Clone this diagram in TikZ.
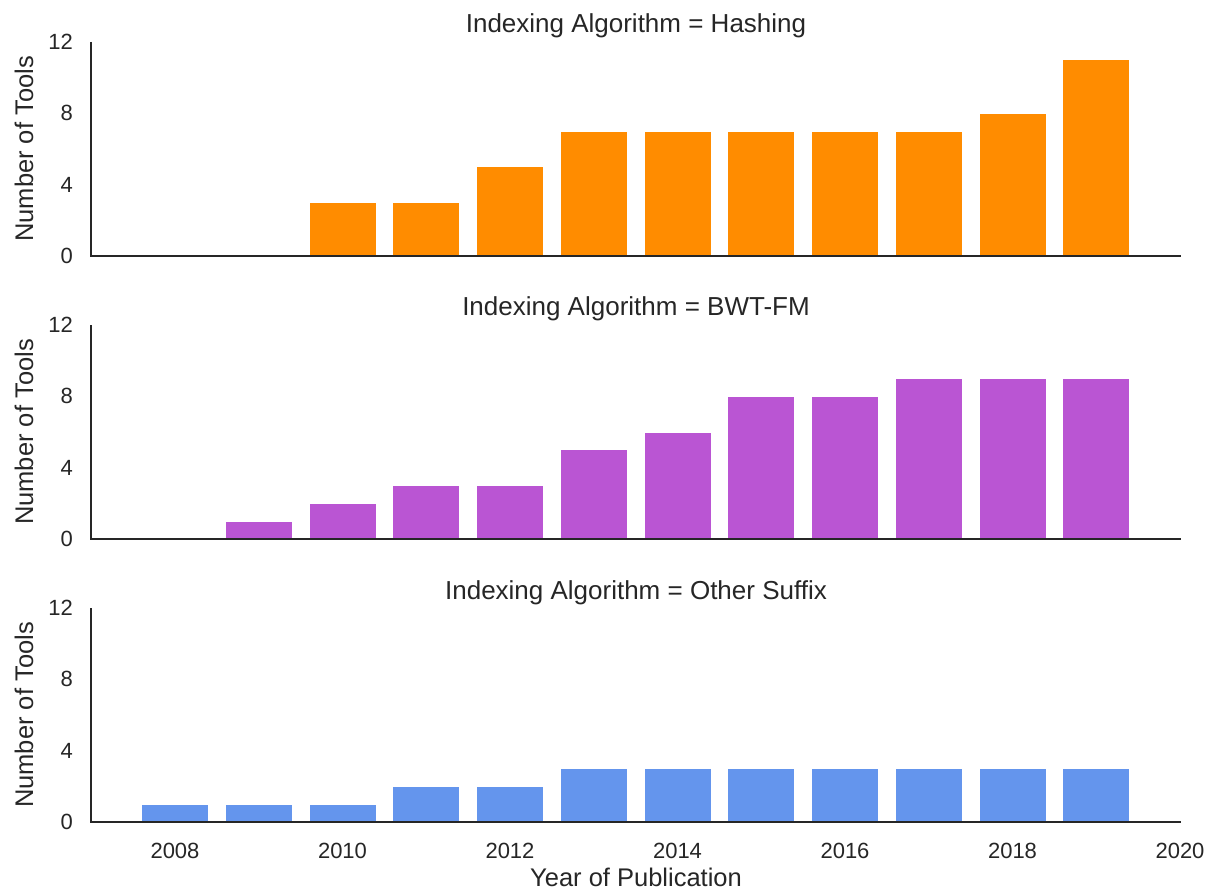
\documentclass[tikz,border=0pt]{standalone}
\usepackage{fontspec}
\setmainfont{Liberation Sans}
\definecolor{hashc}{HTML}{FF8C00}
\definecolor{bwtc}{HTML}{BA55D3}
\definecolor{otherc}{HTML}{6495ED}
\definecolor{ink}{HTML}{262626}
\begin{document}
\begin{tikzpicture}[x=1pt,y=-1pt,
  lbl/.style={text=ink, inner sep=0pt},
  ticklbl/.style={lbl, font=\fontsize{22}{24}\selectfont},
  titlelbl/.style={lbl, font=\fontsize{26}{28}\selectfont, anchor=base},
  axlbl/.style={lbl, font=\fontsize{25.5}{27}\selectfont},
  axisline/.style={draw=ink, line width=2.6pt},
  bar/.style={draw=white, line width=0.8pt}]
\useasboundingbox (0,0) rectangle (1210,893);
\fill[white] (0,0) rectangle (1210,893);
% panels: bottoms 256, 539, 822
\foreach \B/\p/\ttl in {256/a/Hashing, 539/b/BWT-FM, 822/c/Other Suffix}{
  \coordinate (top\p) at (91,{\B-214});
  \coordinate (org\p) at (91,\B);
  \coordinate (end\p) at (1181,\B);
  \node[titlelbl] (title\p) at (636,{\B-223}) {Indexing Algorithm = \ttl};
  \node[axlbl, rotate=90, anchor=base] (ylab\p) at (33,{\B-107}) {Number of Tools};
  \foreach \v in {0,4,8,12}
    \node[ticklbl, anchor=east] (yt\p\v) at (73,{\B-\v*17.83}) {\v};
}
% bars
\foreach \yr/\n in {2010/3,2011/3,2012/5,2013/7,2014/7,2015/7,2016/7,2017/7,2018/8,2019/11}
  \path[bar, fill=hashc] ({175+(\yr-2008)*83.75-33.5},256) rectangle ++(67,{-\n*17.83});
\foreach \yr/\n in {2009/1,2010/2,2011/3,2012/3,2013/5,2014/6,2015/8,2016/8,2017/9,2018/9,2019/9}
  \path[bar, fill=bwtc] ({175+(\yr-2008)*83.75-33.5},539) rectangle ++(67,{-\n*17.83});
\foreach \yr/\n in {2008/1,2009/1,2010/1,2011/2,2012/2,2013/3,2014/3,2015/3,2016/3,2017/3,2018/3,2019/3}
  \path[bar, fill=otherc] ({175+(\yr-2008)*83.75-33.5},822) rectangle ++(67,{-\n*17.83});
% axes
\foreach \p in {a,b,c}
  \draw[axisline] (top\p) -- (org\p) -- (end\p);
% x tick labels
\foreach \yr in {2008,2010,...,2020}
  \node[ticklbl, anchor=base] (xt\yr) at ({175+(\yr-2008)*83.75},858) {\yr};
\node[axlbl, anchor=base] (xlab) at (636,886) {Year of Publication};
\end{tikzpicture}
\end{document}
